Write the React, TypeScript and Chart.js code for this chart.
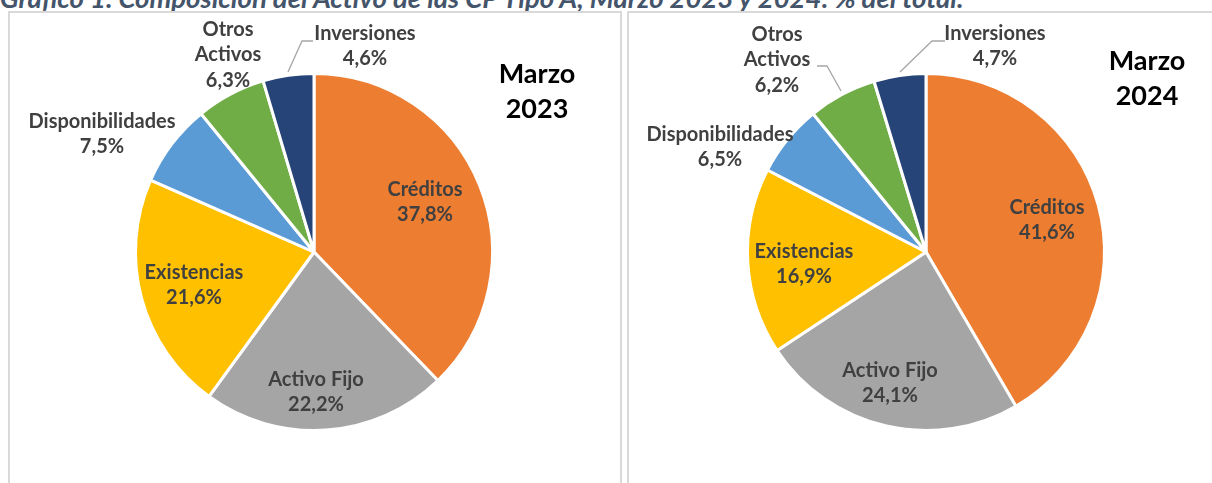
import React, { useEffect, useRef } from "react";
import { Chart, registerables } from "chart.js";

Chart.register(...registerables);

const categories = ["Créditos", "Activo Fijo", "Existencias", "Disponibilidades", "Otros Activos", "Inversiones"];
const values2023 = [37.8, 22.2, 21.6, 7.5, 6.3, 4.6];
const values2024 = [41.6, 24.1, 16.9, 6.5, 6.2, 4.7];
const colors = ["#ED7D31", "#A5A5A5", "#FFC000", "#5B9BD5", "#70AD47", "#264478"];
const labelLines = [["Créditos"], ["Activo Fijo"], ["Existencias"], ["Disponibilidades"], ["Otros", "Activos"], ["Inversiones"]];

const TITLE = "Gráfico 1. Composición del Activo de las CP Tipo A, Marzo 2023 y 2024: % del total.";

// label block centers relative to pie center (px)
const labelOffsets2023 = [[111, -50], [2, 140], [-120, 33], [-212, -118], [-86, -197], [51, -206]];
const labelOffsets2024 = [[121, -32], [-36, 131], [-122, 12], [-206, -105], [-149, -192], [69, -206]];
const leaders2023 = [[[-26, -180], [-12, -211], [-1, -211]]];
const leaders2024 = [
  [[-26, -180], [6, -211], [19, -211]],
  [[-85, -161], [-99, -186], [-109, -186]],
];

const FONT = "Lato, 'Open Sans', sans-serif";
const fmt = (v: number) => v.toFixed(1).replace(".", ",") + "%";

function makeLabelPlugin(values: number[], offsets: number[][], leaders: number[][][], yearTitle: string[], yearPos: number[]) {
  return {
    id: "customLabels",
    afterDatasetsDraw(chart: any) {
      const ctx = chart.ctx;
      const arc = chart.getDatasetMeta(0).data[0];
      const cx = arc.x;
      const cy = arc.y;
      ctx.save();
      ctx.strokeStyle = "#A6A6A6";
      ctx.lineWidth = 1.3;
      leaders.forEach((pts) => {
        ctx.beginPath();
        pts.forEach((p, i) => {
          if (i === 0) ctx.moveTo(cx + p[0], cy + p[1]);
          else ctx.lineTo(cx + p[0], cy + p[1]);
        });
        ctx.stroke();
      });
      ctx.textAlign = "center";
      ctx.textBaseline = "middle";
      ctx.fillStyle = "#404040";
      ctx.font = `bold 20px ${FONT}`;
      const lh = 25.5;
      values.forEach((v, i) => {
        const lines = [...labelLines[i], fmt(v)];
        const [dx, dy] = offsets[i];
        const startY = cy + dy - ((lines.length - 1) * lh) / 2;
        lines.forEach((t, j) => ctx.fillText(t, cx + dx, startY + j * lh));
      });
      ctx.fillStyle = "#000000";
      ctx.font = `bold 27px ${FONT}`;
      const ylh = 35;
      const sy = cy + yearPos[1] - ((yearTitle.length - 1) * ylh) / 2;
      yearTitle.forEach((t, j) => ctx.fillText(t, cx + yearPos[0], sy + j * ylh));
      ctx.restore();
    },
  };
}

function PieCanvas(props: { values: number[]; offsets: number[][]; leaders: number[][][]; year: string[]; yearPos: number[]; left: number; width: number; padding: any }) {
  const ref = useRef<HTMLCanvasElement>(null);
  useEffect(() => {
    const chart = new Chart(ref.current!, {
      type: "pie",
      data: {
        labels: categories,
        datasets: [
          {
            data: props.values,
            backgroundColor: colors,
            borderColor: "#FFFFFF",
            borderWidth: 3,
          },
        ],
      },
      options: {
        animation: false,
        responsive: false,
        maintainAspectRatio: false,
        layout: { padding: props.padding },
        plugins: { legend: { display: false }, tooltip: { enabled: false }, title: { display: false } },
        events: [],
      },
      plugins: [makeLabelPlugin(props.values, props.offsets, props.leaders, props.year, props.yearPos)],
    } as any);
    return () => chart.destroy();
  }, []);
  return (
    <canvas
      ref={ref}
      width={props.width}
      height={483}
      style={{ position: "absolute", left: props.left, top: 0, width: props.width, height: 483 }}
    />
  );
}

export default function App() {
  return (
    <div style={{ position: "fixed", left: 0, top: 0, width: 1212, height: 483, overflow: "hidden", background: "#FFFFFF" }}>
      <div
        style={{
          position: "absolute",
          left: 0,
          top: -16,
          whiteSpace: "nowrap",
          font: `italic bold 27.5px/27.5px ${FONT}`,
          color: "#44546A",
        }}
      >
        {TITLE}
      </div>
      <div style={{ position: "absolute", left: 8, top: 11, width: 610, height: 500, border: "2px solid #D9D9D9" }} />
      <div style={{ position: "absolute", left: 627, top: 11, width: 620, height: 500, border: "2px solid #D9D9D9" }} />
      <PieCanvas
        values={values2023}
        offsets={labelOffsets2023}
        leaders={leaders2023}
        year={["Marzo", "2023"]}
        yearPos={[223, -160]}
        left={0}
        width={620}
        padding={{ left: 134, right: 126, top: 72, bottom: 51 }}
      />
      <PieCanvas
        values={values2024}
        offsets={labelOffsets2024}
        leaders={leaders2024}
        year={["Marzo", "2024"]}
        yearPos={[221, -173]}
        left={620}
        width={592}
        padding={{ left: 126, right: 106, top: 72, bottom: 51 }}
      />
    </div>
  );
}
